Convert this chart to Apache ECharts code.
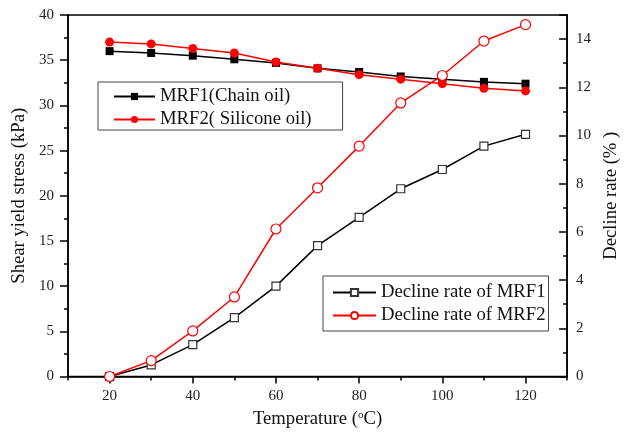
<!DOCTYPE html>
<html>
<head>
<meta charset="utf-8">
<script src="https://cdn.jsdelivr.net/npm/echarts@6/dist/echarts.min.js"></script>
<style>html,body{margin:0;padding:0;background:#fff}#c{width:629px;height:434px}</style>
</head>
<body>
<div id="c"></div>
<script>
var temps = [20, 30, 40, 50, 60, 70, 80, 90, 100, 110, 120];
var mrf1Stress = [36.0, 35.8, 35.5, 35.1, 34.7, 34.1, 33.7, 33.2, 32.9, 32.6, 32.4];
var mrf2Stress = [37.0, 36.8, 36.3, 35.8, 34.8, 34.1, 33.4, 32.9, 32.4, 31.9, 31.6];
var mrf1Decline = [0, 0.48, 1.32, 2.44, 3.75, 5.43, 6.60, 7.79, 8.59, 9.56, 10.05];
var mrf2Decline = [0, 0.66, 1.89, 3.30, 6.12, 7.83, 9.56, 11.35, 12.49, 13.92, 14.6];
var xMajorTicks = [20, 40, 60, 80, 100, 120];
var xMinorTicks = [10, 30, 50, 70, 90, 110, 130];

function pairs(ys) { return temps.map(function (t, i) { return [t, ys[i]]; }); }

var FONT = 'Liberation Serif';
var chart = echarts.init(document.getElementById('c'));
chart.setOption({
  animation: false,
  backgroundColor: '#fff',
  grid: { left: 68, right: 58, top: 15, bottom: 51, show: true, borderColor: '#000', borderWidth: 1.5, backgroundColor: 'transparent' },
  legend: [
    {
      data: ['MRF1(Chain oil)', 'MRF2( Silicone oil)'],
      orient: 'vertical', left: 98, top: 82,
      padding: [5, 31, 1, 15], itemGap: 4, itemWidth: 41, itemHeight: 9,
      borderColor: '#444', borderWidth: 1, backgroundColor: '#fff',
      selectedMode: false,
      textStyle: { fontFamily: FONT, fontSize: 18.7, color: '#111' }
    },
    {
      data: ['Decline rate of MRF1', 'Decline rate of MRF2'],
      orient: 'vertical', left: 323, top: 276,
      padding: [7, 3, 6, 9], itemGap: 4, itemWidth: 43, itemHeight: 9,
      borderColor: '#444', borderWidth: 1, backgroundColor: '#fff',
      selectedMode: false,
      textStyle: { fontFamily: FONT, fontSize: 18.7, color: '#111' }
    }
  ],
  xAxis: [
    {
      type: 'value', min: 10, max: 130, interval: 10,
      name: 'Temperature ({sup|o}C)', nameLocation: 'middle', nameGap: 33,
      nameTextStyle: { fontFamily: FONT, fontSize: 18.7, color: '#111',
        rich: { sup: { fontFamily: FONT, fontSize: 11, color: '#111', padding: [0, 0, 9, 0] } } },
      axisLine: { show: true, onZero: false, lineStyle: { color: '#000', width: 1.5 } },
      axisTick: { show: true, length: 7, customValues: xMajorTicks, lineStyle: { color: '#000', width: 1.5 } },
      axisLabel: { show: true, customValues: xMajorTicks, margin: 12, fontFamily: FONT, fontSize: 15, color: '#222' },
      splitLine: { show: false }
    },
    {
      type: 'value', min: 10, max: 130, interval: 10, position: 'bottom',
      axisLine: { show: false },
      axisTick: { show: true, length: 4, customValues: xMinorTicks, lineStyle: { color: '#000', width: 1.5 } },
      axisLabel: { show: false },
      splitLine: { show: false }
    }
  ],
  yAxis: [
    {
      type: 'value', min: 0, max: 40, interval: 5, position: 'left',
      name: 'Shear yield stress (kPa)', nameLocation: 'middle', nameGap: 39,
      nameTextStyle: { fontFamily: FONT, fontSize: 18.7, color: '#111' },
      axisLine: { show: true, lineStyle: { color: '#000', width: 1.5 } },
      axisTick: { show: true, length: 8, lineStyle: { color: '#000', width: 1.5 } },
      minorTick: { show: true, splitNumber: 2, length: 4, lineStyle: { color: '#000', width: 1.5 } },
      axisLabel: { margin: 14, fontFamily: FONT, fontSize: 15, color: '#222' },
      splitLine: { show: false }
    },
    {
      type: 'value', min: 0, max: 15, interval: 2, position: 'right',
      name: 'Decline rate (% )', nameLocation: 'middle', nameGap: 30,
      nameTextStyle: { fontFamily: FONT, fontSize: 18.7, color: '#111' },
      axisLine: { show: true, lineStyle: { color: '#000', width: 1.5 } },
      axisTick: { show: true, inside: true, length: 8, lineStyle: { color: '#000', width: 1.5 } },
      minorTick: { show: true, splitNumber: 2, length: 4, lineStyle: { color: '#000', width: 1.5 } },
      axisLabel: { margin: 9, fontFamily: FONT, fontSize: 15, color: '#222',
        formatter: function (v) { return v > 14 ? '' : String(v); } },
      splitLine: { show: false }
    }
  ],
  series: [
    { name: 'MRF1(Chain oil)', type: 'line', yAxisIndex: 0, data: pairs(mrf1Stress),
      symbol: 'rect', symbolSize: 8, lineStyle: { color: '#000', width: 1.5 }, itemStyle: { color: '#000' } },
    { name: 'MRF2( Silicone oil)', type: 'line', yAxisIndex: 0, data: pairs(mrf2Stress),
      symbol: 'circle', symbolSize: 9, lineStyle: { color: '#ff0000', width: 1.5 }, itemStyle: { color: '#ff0000' } },
    { name: 'Decline rate of MRF1', type: 'line', yAxisIndex: 1, data: pairs(mrf1Decline),
      symbol: 'rect', symbolSize: 8, lineStyle: { color: '#000', width: 1.5 },
      itemStyle: { color: '#fff', borderColor: '#333', borderWidth: 1.2 } },
    { name: 'Decline rate of MRF2', type: 'line', yAxisIndex: 1, data: pairs(mrf2Decline),
      symbol: 'circle', symbolSize: 10, lineStyle: { color: '#ff0000', width: 1.5 },
      itemStyle: { color: '#fff', borderColor: '#ff0000', borderWidth: 1.2 } }
  ]
});
</script>
</body>
</html>
